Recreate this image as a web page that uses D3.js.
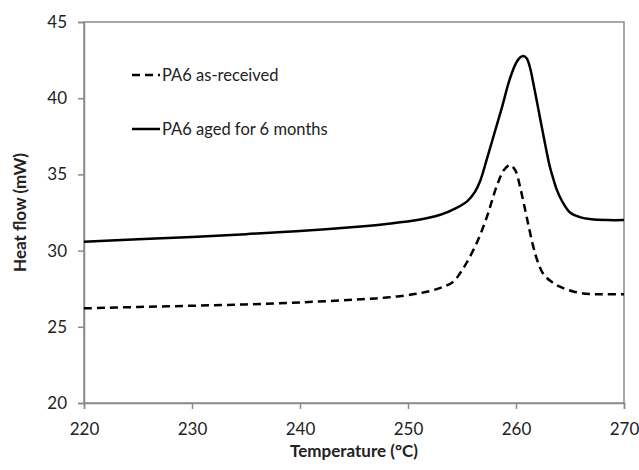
<!DOCTYPE html>
<html>
<head>
<meta charset="utf-8">
<script src="https://cdn.jsdelivr.net/npm/d3@7"></script>
<style>
  body { margin: 0; background: #fff; }
  text { font-family: Lato, "Open Sans", sans-serif; fill: #222; }
</style>
</head>
<body>
<div id="chart"></div>
<script>
// temperature (°C) and heat flow (mW)
var tempReceived = [220, 225, 230, 235, 240, 245, 248, 251, 253, 254.2, 254.8, 255.4, 256.35, 257.3, 258.2, 258.9, 259.45, 259.95, 260.37, 260.99, 261.6, 262.0, 262.5, 263.2, 264.07, 265.3, 266.8, 268, 270];
var flowReceived = [26.21, 26.3, 26.38, 26.47, 26.6, 26.78, 26.92, 27.19, 27.55, 27.96, 28.5, 29.17, 30.48, 32.2, 34.2, 35.3, 35.62, 35.25, 34.2, 32.2, 30.26, 29.3, 28.5, 28.0, 27.63, 27.32, 27.15, 27.13, 27.13];

var tempAged = [220, 225, 230, 235, 240, 245, 248, 251, 253, 254.5, 255.5, 256.2, 256.7, 257.3, 258.0, 258.7, 259.4, 260.0, 260.4, 260.7, 261.0, 261.3, 261.6, 262.2, 262.5, 263.1, 263.5, 263.8, 264.3, 265.0, 265.9, 267, 268.5, 270];
var flowAged = [30.58, 30.74, 30.9, 31.08, 31.28, 31.55, 31.75, 32.02, 32.35, 32.8, 33.25, 33.85, 34.6, 36.0, 37.7, 39.4, 41.2, 42.3, 42.68, 42.77, 42.6, 42.0, 41.0, 38.8, 37.7, 35.6, 34.6, 33.95, 33.2, 32.5, 32.2, 32.05, 32.0, 32.0];

var xTicks = [220, 230, 240, 250, 260, 270];
var yTicks = [20, 25, 30, 35, 40, 45];

var w = 639;
var h = 470;
var margin = { top: 22, right: 15, bottom: 67, left: 84 };
var axisColor = "#8a8a8a";

var svg = d3.select("#chart")
    .append("svg")
    .attr("width", w)
    .attr("height", h);

var xScale = d3.scaleLinear()
    .domain([220, 270])
    .range([margin.left, w - margin.right]);

var yScale = d3.scaleLinear()
    .domain([20, 45])
    .range([h - margin.bottom, margin.top]);

// plot frame
svg.append("rect")
    .attr("x", xScale(220))
    .attr("y", yScale(45))
    .attr("width", xScale(270) - xScale(220))
    .attr("height", yScale(20) - yScale(45))
    .attr("fill", "none")
    .attr("stroke", axisColor)
    .attr("stroke-width", 1.5);

var xAxis = svg.append("g")
    .attr("transform", "translate(0," + (h - margin.bottom) + ")")
    .call(d3.axisBottom(xScale).tickValues(xTicks).tickSize(6).tickPadding(14));

var yAxis = svg.append("g")
    .attr("transform", "translate(" + margin.left + ",0)")
    .call(d3.axisLeft(yScale).tickValues(yTicks).tickSize(6).tickPadding(11));

[xAxis, yAxis].forEach(function (g) {
    g.selectAll("path, line").attr("stroke", axisColor).attr("stroke-width", 1.5);
    g.selectAll("text").style("font-family", "Lato, 'Open Sans', sans-serif")
        .style("font-size", "17px").style("fill", "#222");
});

// axis titles
svg.append("text")
    .attr("x", (xScale(220) + xScale(270)) / 2)
    .attr("y", 457)
    .attr("text-anchor", "middle")
    .style("font-size", "17px")
    .style("font-weight", "bold")
    .text("Temperature (°C)");

svg.append("text")
    .attr("transform", "rotate(-90)")
    .attr("x", -(yScale(20) + yScale(45)) / 2)
    .attr("y", 26)
    .attr("text-anchor", "middle")
    .style("font-size", "17px")
    .style("font-weight", "bold")
    .text("Heat flow (mW)");

var line = d3.line()
    .x(function (d) { return xScale(d[0]); })
    .y(function (d) { return yScale(d[1]); })
    .curve(d3.curveCatmullRom.alpha(0.5));

var received = d3.zip(tempReceived, flowReceived);
var aged = d3.zip(tempAged, flowAged);

svg.append("path")
    .datum(received)
    .attr("d", line)
    .attr("fill", "none")
    .attr("stroke", "#000")
    .attr("stroke-width", 2.5)
    .attr("stroke-dasharray", "8,5");

svg.append("path")
    .datum(aged)
    .attr("d", line)
    .attr("fill", "none")
    .attr("stroke", "#000")
    .attr("stroke-width", 2.5);

// legend
var legend = [
    { label: "PA6 as-received", dash: "8,5", y: 75 },
    { label: "PA6 aged for 6 months", dash: null, y: 129 }
];

legend.forEach(function (d) {
    svg.append("line")
        .attr("x1", 132).attr("x2", 160)
        .attr("y1", d.y).attr("y2", d.y)
        .attr("stroke", "#000")
        .attr("stroke-width", 2.5)
        .attr("stroke-dasharray", d.dash);
    svg.append("text")
        .attr("x", 162)
        .attr("y", d.y + 6)
        .style("font-size", "16.5px")
        .text(d.label);
});
</script>
</body>
</html>
